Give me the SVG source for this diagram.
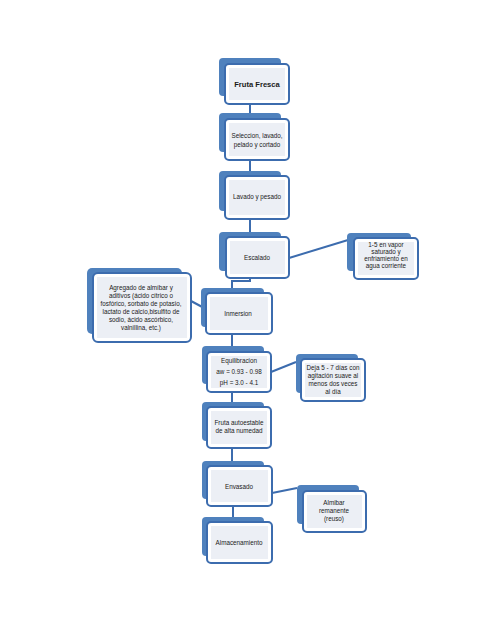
<svg xmlns="http://www.w3.org/2000/svg" width="495" height="640" viewBox="0 0 495 640">
<style>
.back{fill:#4F81BD;}
.front{fill:#FFFFFF;stroke:#3C6CAE;stroke-width:2;}
.inner{fill:#ECEFF5;}
.t{font-family:"Liberation Sans",Arial,sans-serif;font-size:6.3px;fill:#1a1a1a;text-anchor:middle;}
.b{font-weight:bold;font-size:7.6px;}
.c{stroke:#3C6CAE;stroke-width:2;fill:none;}
</style>
<rect width="495" height="640" fill="#FFFFFF"/>
<g id="connectors">
<line class="c" x1="250" y1="104" x2="250" y2="113"/>
<line class="c" x1="250" y1="160" x2="250" y2="171"/>
<line class="c" x1="250" y1="219" x2="250" y2="232"/>
<path class="c" d="M250,278 V281 H232 V288"/>
<line class="c" x1="232" y1="334" x2="232" y2="346"/>
<line class="c" x1="232" y1="392" x2="232" y2="402"/>
<line class="c" x1="232" y1="448" x2="232" y2="461"/>
<line class="c" x1="233" y1="506" x2="233" y2="517"/>
<line class="c" x1="289" y1="258" x2="348" y2="240"/>
<line class="c" x1="206" y1="309" x2="191" y2="301"/>
<line class="c" x1="271" y1="372" x2="296" y2="362"/>
<line class="c" x1="272" y1="493" x2="297" y2="488"/>
</g>
<g id="n-fruta">
<rect class="back" x="219" y="58" width="62" height="38" rx="4"/>
<rect class="front" x="225" y="64" width="64" height="40" rx="4"/>
<rect class="inner" x="229" y="68" width="56" height="32"/>
<text class="t b" x="257" y="86.5">Fruta Fresca</text>
</g>
<g id="n-seleccion">
<rect class="back" x="219" y="113" width="62" height="39" rx="4"/>
<rect class="front" x="225" y="119" width="64" height="41" rx="4"/>
<rect class="inner" x="229" y="123" width="56" height="33"/>
<text class="t" x="257" y="138">Seleccion, lavado,</text>
<text class="t" x="257" y="146.5">pelado y cortado</text>
</g>
<g id="n-lavado">
<rect class="back" x="219" y="171" width="62" height="40" rx="4"/>
<rect class="front" x="225" y="176" width="64" height="43" rx="4"/>
<rect class="inner" x="229" y="180" width="56" height="35"/>
<text class="t" x="257" y="198.5">Lavado y pesado</text>
</g>
<g id="n-escalado">
<rect class="back" x="219" y="232" width="62" height="39" rx="4"/>
<rect class="front" x="226" y="237" width="63" height="41" rx="4"/>
<rect class="inner" x="230" y="241" width="55" height="33"/>
<text class="t" x="257" y="259.5">Escalado</text>
</g>
<g id="n-inmersion">
<rect class="back" x="201" y="288" width="63" height="39" rx="4"/>
<rect class="front" x="206" y="293" width="66" height="41" rx="4"/>
<rect class="inner" x="210" y="297" width="58" height="33"/>
<text class="t" x="238" y="316">Inmersion</text>
</g>
<g id="n-agregado">
<rect class="back" x="87" y="268" width="95" height="66" rx="5"/>
<rect class="front" x="93" y="273" width="98" height="69" rx="5"/>
<rect class="inner" x="97" y="277" width="90" height="61"/>
<text class="t" x="141" y="290">Agregado de almíbar y</text>
<text class="t" x="141" y="298">aditivos (ácido cítrico o</text>
<text class="t" x="141" y="306">fosfórico, sorbato de potasio,</text>
<text class="t" x="141" y="314">lactato de calcio,bisulfito de</text>
<text class="t" x="141" y="322">sodio, ácido ascórbico,</text>
<text class="t" x="141" y="330">valnillina, etc.)</text>
</g>
<g id="n-vapor">
<rect class="back" x="347" y="233" width="64" height="38" rx="4"/>
<rect class="front" x="354" y="238" width="64" height="41" rx="4"/>
<rect class="inner" x="358" y="242" width="56" height="33"/>
<text class="t" x="386" y="247">1-5 en vapor</text>
<text class="t" x="386" y="254">saturado y</text>
<text class="t" x="386" y="261">enfriamiento en</text>
<text class="t" x="386" y="268">agua corriente</text>
</g>
<g id="n-equilibracion">
<rect class="back" x="202" y="346" width="62" height="38" rx="4"/>
<rect class="front" x="207" y="352" width="64" height="40" rx="4"/>
<rect class="inner" x="211" y="356" width="56" height="32"/>
<text class="t" x="239" y="363">Equilibracion</text>
<text class="t" x="239" y="374">aw = 0.93 - 0.98</text>
<text class="t" x="239" y="384.5">pH = 3.0 - 4.1</text>
</g>
<g id="n-deja">
<rect class="back" x="296" y="354" width="62" height="39" rx="4"/>
<rect class="front" x="301" y="359" width="64" height="42" rx="4"/>
<rect class="inner" x="305" y="363" width="56" height="34"/>
<text class="t" x="333" y="370">Deja 5 - 7 días con</text>
<text class="t" x="333" y="378">agitación suave al</text>
<text class="t" x="333" y="386">menos dos veces</text>
<text class="t" x="333" y="394">al día</text>
</g>
<g id="n-autoestable">
<rect class="back" x="202" y="402" width="62" height="39" rx="4"/>
<rect class="front" x="207" y="407" width="64" height="41" rx="4"/>
<rect class="inner" x="211" y="411" width="56" height="33"/>
<text class="t" x="239" y="425">Fruta autoestable</text>
<text class="t" x="239" y="433">de alta numedad</text>
</g>
<g id="n-envasado">
<rect class="back" x="202" y="461" width="62" height="38" rx="4"/>
<rect class="front" x="207" y="466" width="65" height="40" rx="4"/>
<rect class="inner" x="211" y="470" width="57" height="32"/>
<text class="t" x="239" y="488.5">Envasado</text>
</g>
<g id="n-almibar">
<rect class="back" x="297" y="485" width="62" height="39" rx="4"/>
<rect class="front" x="303" y="491" width="63" height="41" rx="4"/>
<rect class="inner" x="307" y="495" width="55" height="33"/>
<text class="t" x="334" y="505">Almibar</text>
<text class="t" x="334" y="513">remanente</text>
<text class="t" x="334" y="521">(reuso)</text>
</g>
<g id="n-almacenamiento">
<rect class="back" x="202" y="517" width="62" height="39" rx="4"/>
<rect class="front" x="207" y="522" width="65" height="41" rx="4"/>
<rect class="inner" x="211" y="526" width="57" height="33"/>
<text class="t" x="239" y="545">Almacenamiento</text>
</g>
</svg>
